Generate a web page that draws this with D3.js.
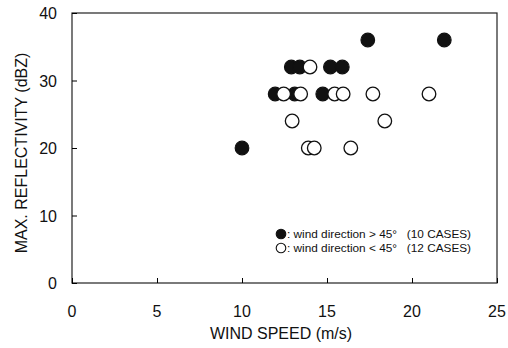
<!DOCTYPE html>
<html>
<head>
<meta charset="utf-8">
<title>Max reflectivity vs wind speed</title>
<script src="https://cdn.jsdelivr.net/npm/d3@7"></script>
<style>
  body { margin: 0; background: #fff; }
  text { font-family: "Liberation Sans", Arial, sans-serif; fill: #111; }
</style>
</head>
<body>
<div id="chart"></div>
<script>
// wind direction > 45 deg (filled)
var highSpeed = [10, 11.95, 13.1, 14.75, 12.9, 13.4, 15.2, 15.9, 17.4, 21.9];
var highRefl  = [20, 28, 28, 28, 32, 32, 32, 32, 36, 36];
// wind direction < 45 deg (open)
var lowSpeed = [12.45, 13.45, 15.45, 15.95, 17.7, 21.0, 14.0, 12.95, 18.4, 13.9, 14.25, 16.4];
var lowRefl  = [28, 28, 28, 28, 28, 28, 32, 24, 24, 20, 20, 20];

var xTicks = [0, 5, 10, 15, 20, 25];
var yTicks = [0, 10, 20, 30, 40];

var width = 508, height = 348;
var margin = {top: 13, right: 11, bottom: 65, left: 72};

var svg = d3.select("#chart").append("svg")
    .attr("width", width)
    .attr("height", height);

var x = d3.scaleLinear().domain([0, 25]).range([margin.left, width - margin.right]);
var y = d3.scaleLinear().domain([0, 40]).range([height - margin.bottom, margin.top]);

// frame
svg.append("rect")
    .attr("x", x(0)).attr("y", y(40))
    .attr("width", x(25) - x(0)).attr("height", y(0) - y(40))
    .attr("fill", "none").attr("stroke", "#222").attr("stroke-width", 1.2);

// inward ticks
svg.append("g")
    .attr("transform", "translate(0," + y(0) + ")")
    .call(d3.axisBottom(x).tickValues(xTicks).tickSizeInner(-5).tickSizeOuter(0).tickFormat(""))
    .call(function(g) { g.select(".domain").remove(); });
svg.append("g")
    .attr("transform", "translate(" + x(0) + ",0)")
    .call(d3.axisLeft(y).tickValues(yTicks).tickSizeInner(-5).tickSizeOuter(0).tickFormat(""))
    .call(function(g) { g.select(".domain").remove(); });

// tick labels
svg.selectAll(".xlab").data(xTicks).enter().append("text")
    .attr("x", function(d) { return x(d); })
    .attr("y", 317)
    .attr("text-anchor", "middle")
    .style("font-size", "16px")
    .text(function(d) { return d; });
svg.selectAll(".ylab").data(yTicks).enter().append("text")
    .attr("x", 57)
    .attr("y", function(d) { return y(d) + 6; })
    .attr("text-anchor", "end")
    .style("font-size", "16px")
    .text(function(d) { return d; });

// axis titles
svg.append("text")
    .attr("x", 281).attr("y", 339)
    .attr("text-anchor", "middle")
    .style("font-size", "16px")
    .text("WIND SPEED (m/s)");
svg.append("text")
    .attr("transform", "translate(27,153) rotate(-90)")
    .attr("text-anchor", "middle")
    .style("font-size", "16px")
    .text("MAX. REFLECTIVITY (dBZ)");

// points
var r = 6.8;
svg.append("g").selectAll("circle")
    .data(d3.zip(highSpeed, highRefl))
    .enter().append("circle")
    .attr("cx", function(d) { return x(d[0]); })
    .attr("cy", function(d) { return y(d[1]); })
    .attr("r", r)
    .attr("fill", "#111").attr("stroke", "#111").attr("stroke-width", 1.2);
svg.append("g").selectAll("circle")
    .data(d3.zip(lowSpeed, lowRefl))
    .enter().append("circle")
    .attr("cx", function(d) { return x(d[0]); })
    .attr("cy", function(d) { return y(d[1]); })
    .attr("r", r)
    .attr("fill", "#fff").attr("stroke", "#111").attr("stroke-width", 1.3);

// legend
var legend = [
  {filled: true,  label: ": wind direction > 45°   (10 CASES)"},
  {filled: false, label: ": wind direction < 45°   (12 CASES)"}
];
var lg = svg.append("g").selectAll("g").data(legend).enter().append("g")
    .attr("transform", function(d, i) { return "translate(281," + (234 + i * 14) + ")"; });
lg.append("circle")
    .attr("r", 4.8)
    .attr("fill", function(d) { return d.filled ? "#111" : "#fff"; })
    .attr("stroke", "#111").attr("stroke-width", 1.1);
lg.append("text")
    .attr("x", 6).attr("y", 4)
    .style("font-size", "11.8px")
    .style("white-space", "pre")
    .text(function(d) { return d.label; });
</script>
</body>
</html>
